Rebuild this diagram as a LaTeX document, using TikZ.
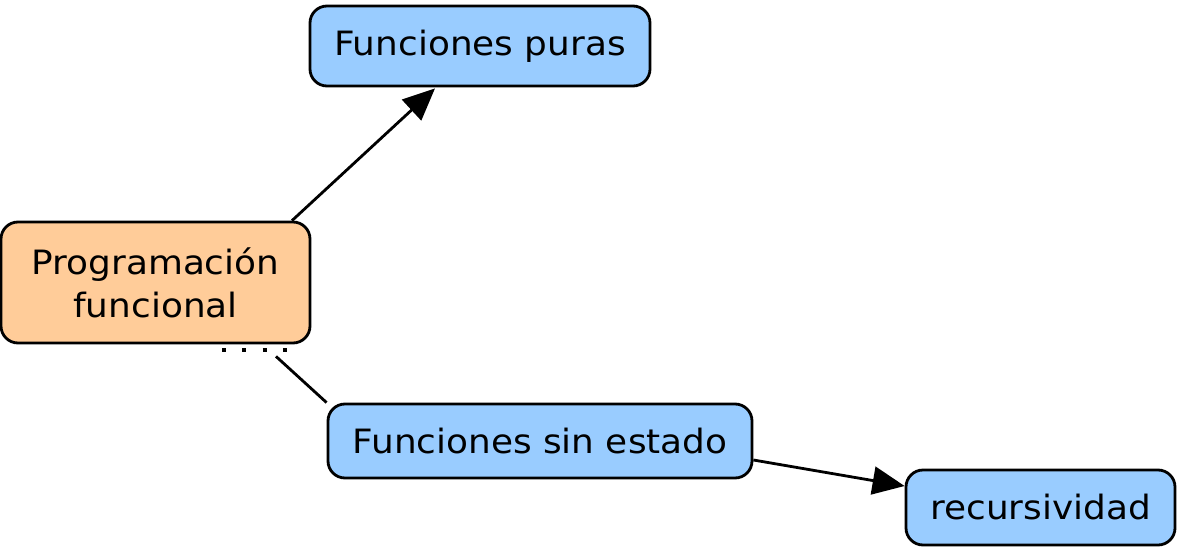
\documentclass[tikz,border=0pt]{standalone}
\usepackage{fontspec}
\setmainfont[FakeStretch=1.07]{DejaVu Sans}
\usetikzlibrary{arrows.meta,calc}
\begin{document}
\begin{tikzpicture}[x=1pt,y=1pt,
  box/.style={draw=black,line width=2.8pt,rounded corners=17pt,inner sep=0pt,align=center,
    font=\fontsize{33.5}{43}\selectfont},
  bluebox/.style={box,fill=blue1},
  orangebox/.style={box,fill=orange1},
  conn/.style={line width=2.8pt,draw=black},
  arr/.style={conn,-{Triangle[length=32pt,width=28pt]}}]
\definecolor{blue1}{HTML}{99CCFF}
\definecolor{orange1}{HTML}{FFCC99}
\useasboundingbox (0,0) rectangle (1182,550);
\node[bluebox,minimum width=340pt,minimum height=80pt] (fp) at (480,504) {Funciones puras};
\node[orangebox,minimum width=309pt,minimum height=121pt] (pf) at (155.5,267.5) {Programación\\funcional};
\node[bluebox,minimum width=424pt,minimum height=74pt] (fse) at (540,109) {Funciones sin estado};
\node[bluebox,minimum width=269pt,minimum height=75pt] (rec) at (1040.5,42.5) {recursividad};
\draw[arr] ([xshift=136.5pt]pf.north) -- ([xshift=-45pt,yshift=-1pt]fp.south);
\draw[arr] ([yshift=-19pt]fse.east) -- ([yshift=21.5pt]rec.west);
\draw[conn] ([xshift=120.5pt,yshift=-12pt]pf.south) -- (fse.north west);
\draw[line width=4pt,dash pattern=on 4pt off 16.3pt] ([xshift=66.5pt,yshift=-6pt]pf.south) -- ([xshift=134pt,yshift=-6pt]pf.south);
\end{tikzpicture}
\end{document}
